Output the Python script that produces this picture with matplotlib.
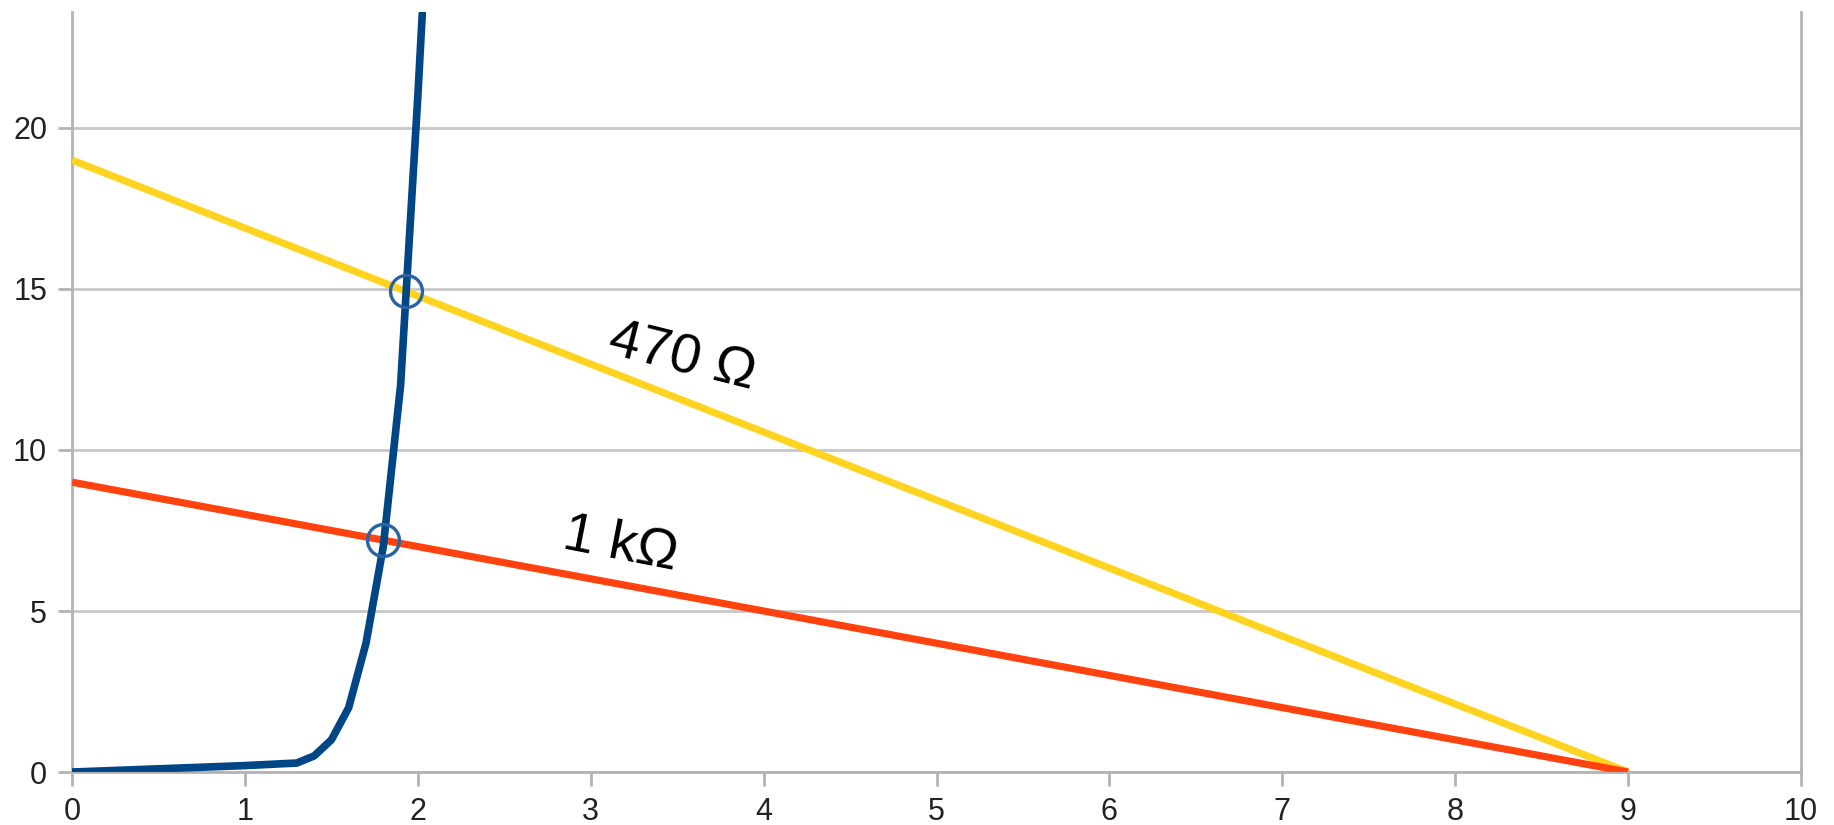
import matplotlib.pyplot as plt
import numpy as np

# diode curve (V, mA)
diode_v = [0, 0.6, 1.0, 1.3, 1.4, 1.5, 1.6, 1.7, 1.8, 1.9, 2.0, 2.1]
diode_i = [0, 0.12, 0.2, 0.28, 0.5, 1, 2, 4, 7, 12, 21, 31]

# load lines
load_1k_v = [0, 9]
load_1k_i = [9, 0]
load_470_v = [0, 9]
load_470_i = [19, 0]

# operating points
op_v = [1.93, 1.80]
op_i = [14.93, 7.2]

xticks = [0, 1, 2, 3, 4, 5, 6, 7, 8, 9, 10]
yticks = [0, 5, 10, 15, 20]

plt.rcParams['font.family'] = ['Liberation Sans', 'DejaVu Sans']

fig = plt.figure(figsize=(18.34, 8.25), dpi=100)
ax = fig.add_axes([0.0393, 0.0642, 0.9427, 0.9213])

ax.plot(load_470_v, load_470_i, color='#ffd320', lw=5.2, solid_capstyle='butt', zorder=3)
ax.plot(load_1k_v, load_1k_i, color='#ff420e', lw=5.2, solid_capstyle='butt', zorder=4)
ax.plot(diode_v, diode_i, color='#004586', lw=5.5, solid_joinstyle='round', zorder=5)
ax.plot(op_v, op_i, 'o', ms=23, mfc='none', mec='#2a62a8', mew=2.4, zorder=6)

ax.text(3.53, 12.86, '470 Ω', fontsize=40, rotation=-14, ha='center', va='center')
ax.text(3.17, 7.05, '1 kΩ', fontsize=40, rotation=-11, ha='center', va='center')

ax.set_xlim(0, 10)
ax.set_ylim(0, 23.6)
ax.set_xticks(xticks)
ax.set_yticks(yticks)
ax.tick_params(direction='out', length=10, width=2, color='#b3b3b3',
               labelsize=22, labelcolor='#222222', pad=8)
ax.grid(axis='y', color='#c8c8c8', lw=2)
ax.set_axisbelow(True)
for s in ['left', 'bottom', 'right']:
    ax.spines[s].set_color('#b3b3b3')
    ax.spines[s].set_linewidth(2)
ax.spines['top'].set_visible(False)

plt.savefig('out.png', dpi=100)
